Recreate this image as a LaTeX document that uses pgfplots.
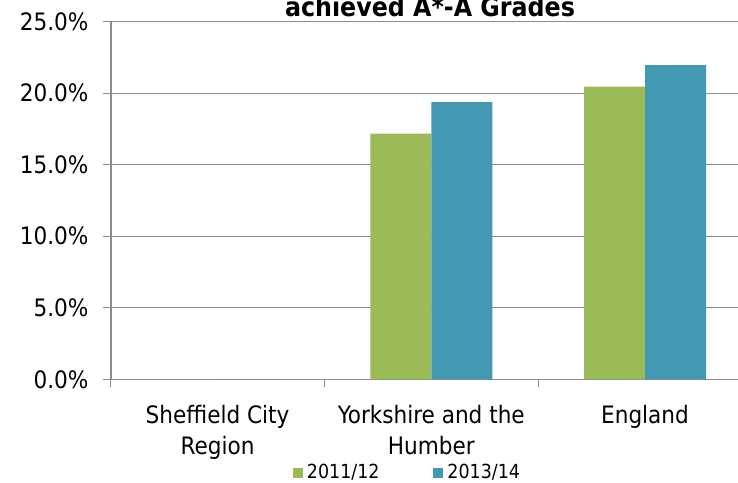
\documentclass[border=0pt]{standalone}
\usepackage{fontspec}
\setmainfont{DejaVu Sans Condensed}
\usepackage{pgfplots}
\pgfplotsset{compat=1.18}

\definecolor{barGreen}{HTML}{9BBB59}
\definecolor{barTeal}{HTML}{4399B1}
\definecolor{axisGray}{HTML}{8C8C8C}

\begin{document}
\fontsize{12pt}{14pt}\selectfont
\begin{tikzpicture}
\begin{axis}[
    at={(0,0)}, anchor=south west,
    scale only axis,
    width=313.65pt, height=178.8pt,
    xmin=-0.5, xmax=2.435,
    ymin=0, ymax=25,
    axis x line*=bottom,
    axis y line*=left,
    axis line style={axisGray, line width=0.8pt},
    ybar, bar width=0.2855,
    % category boundaries carry the tick marks, names sit on extra ticks
    xtick={-0.5,0.5,1.5,2.5},
    xticklabels={},
    extra x ticks={0,1,2},
    extra x tick labels={Sheffield City\\Region, Yorkshire and the\\Humber, England},
    extra x tick style={major tick length=0pt},
    xticklabel style={align=center, yshift=-9pt, font=\fontsize{12pt}{15.5pt}\selectfont},
    ytick={0,5,10,15,20,25},
    yticklabels={0.0\%,5.0\%,10.0\%,15.0\%,20.0\%,25.0\%},
    yticklabel style={font=\fontsize{12pt}{14pt}\selectfont, xshift=-3pt},
    ymajorgrids,
    grid style={axisGray, line width=0.6pt},
    tick align=outside,
    major tick length=3.9pt,
    major tick style={axisGray, line width=0.6pt},
    legend columns=2,
    legend style={draw=none, fill=none, at={(0.4747,-0.263)}, anchor=center,
        inner sep=0pt,
        font=\fontsize{9.7pt}{12pt}\selectfont,
        /tikz/every even column/.append style={column sep=25pt}},
    legend image code/.code={\fill[#1] (0pt,-2.5pt) rectangle (5pt,2.5pt);},
]
\addplot[fill=barGreen, draw=none, bar shift=-0.14275] coordinates {
    (0,0) (1,17.17) (2,20.46)
};
\addlegendentry{2011/12}
\addplot[fill=barTeal, draw=none, bar shift=0.14275] coordinates {
    (0,0) (1,19.37) (2,21.97)
};
\addlegendentry{2013/14}
\end{axis}
\node[anchor=base, font=\fontsize{13.2pt}{15pt}\selectfont\bfseries] at (159.65pt,181.15pt) {achieved A*-A Grades};
\pgfresetboundingbox
\path[use as bounding box] (-55.35pt,-51.35pt) rectangle (313.65pt,189.65pt);
\end{tikzpicture}
\end{document}
